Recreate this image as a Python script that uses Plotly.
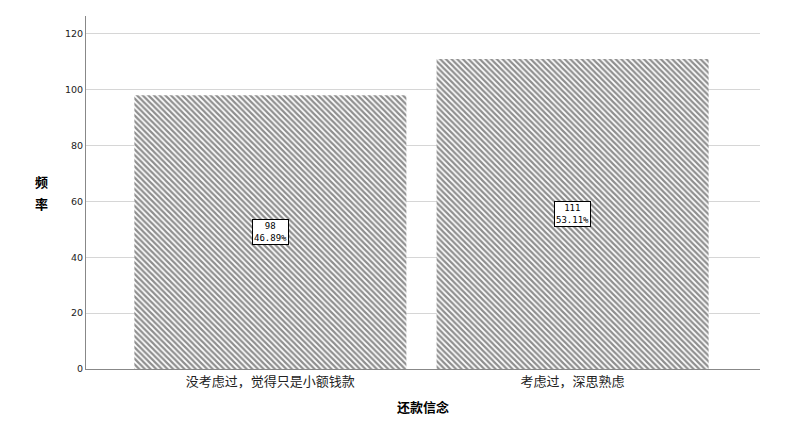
import plotly.graph_objects as go

categories = ["没考虑过，觉得只是小额钱款", "考虑过，深思熟虑"]
counts = [98, 111]
percents = ["46.89%", "53.11%"]
y_ticks = [0, 20, 40, 60, 80, 100, 120]
y_title_chars = ["频", "率"]

fig = go.Figure()
fig.add_trace(go.Bar(
    x=categories, y=counts, width=0.9,
    marker=dict(color="white", line=dict(width=0),
                pattern=dict(shape="\\", size=4, solidity=0.55, fgcolor="#1e1e1e", bgcolor="white")),
    hoverinfo="skip", showlegend=False,
))
for c, v, p in zip(categories, counts, percents):
    fig.add_annotation(x=c, y=v / 2, text=f"{v}<br>{p}", showarrow=False,
                       font=dict(family="DejaVu Sans Mono", size=9, color="black"),
                       bgcolor="white", bordercolor="black", borderwidth=1, borderpad=1)

for ch, yp in zip(y_title_chars, [0.53, 0.47]):
    fig.add_annotation(xref="paper", yref="paper", x=-0.055, y=yp, xanchor="right",
                       yanchor="middle", text=f"<b>{ch}</b>", showarrow=False, borderpad=0,
                       font=dict(family="Noto Sans CJK SC", size=13, color="black"))

fig.update_layout(
    width=804, height=423,
    margin=dict(l=78, r=52, t=8, b=62),
    plot_bgcolor="white", paper_bgcolor="white",
    xaxis=dict(range=[-0.61, 1.62], showline=True, linecolor="#888", linewidth=1,
               ticks="", tickfont=dict(family="Noto Sans CJK SC", size=13, color="#222"),
               title=dict(text="<b>还款信念</b>", font=dict(family="Noto Sans CJK SC", size=13, color="black"),
                          standoff=14)),
    yaxis=dict(range=[0, 126.4], tickvals=y_ticks, showline=True, linecolor="#888", linewidth=1,
               showgrid=True, gridcolor="#d6d6d6", gridwidth=1, zeroline=False,
               ticks="", tickfont=dict(family="DejaVu Sans", size=9.5, color="#222")),
)
fig.write_html("out.html")
